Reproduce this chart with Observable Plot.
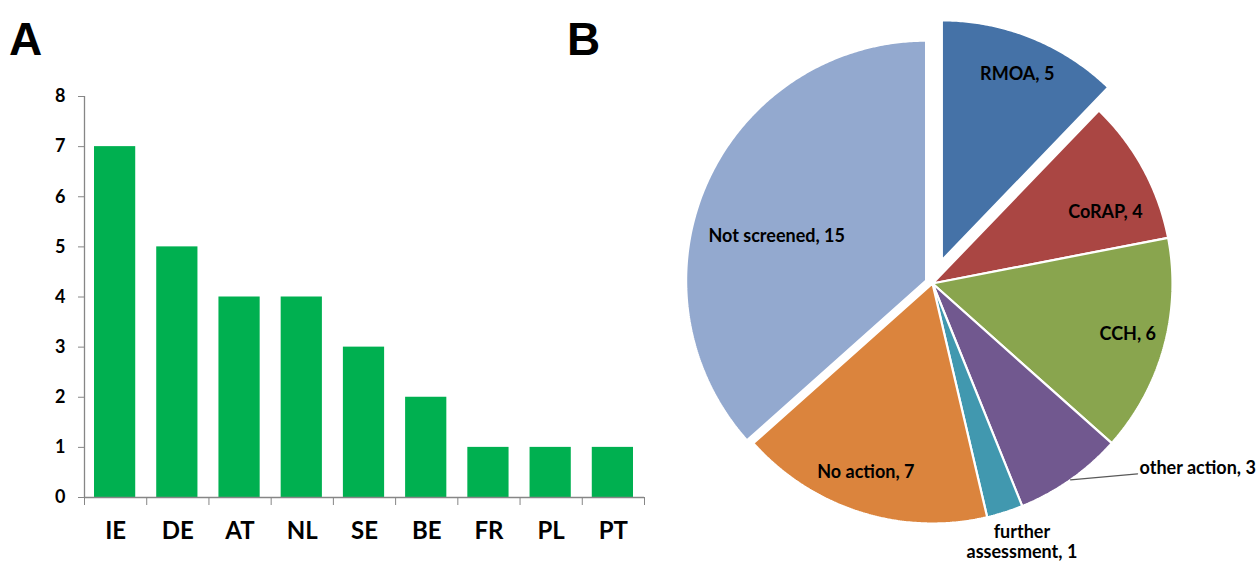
<!DOCTYPE html>
<html>
<head>
<meta charset="utf-8">
<script src="https://cdn.jsdelivr.net/npm/d3@7"></script>
<script src="https://cdn.jsdelivr.net/npm/@observablehq/plot@0.6"></script>
<style>
  html, body { margin: 0; padding: 0; background: #fff; }
  #wrap { position: relative; width: 1260px; height: 563px; overflow: hidden; }
  #bar { position: absolute; left: 0; top: 0; }
  #pie { position: absolute; left: 660px; top: 0; }
  .panel { position: absolute; font-family: "Liberation Sans", Arial, sans-serif; font-weight: bold; font-size: 46px; line-height: 46px; color: #000; }
</style>
</head>
<body>
<div id="wrap">
  <div id="bar"></div>
  <div id="pie"></div>
  <div class="panel" style="left:9px; top:16px;">A</div>
  <div class="panel" style="left:567px; top:16px;">B</div>
</div>
<script>
// ---- Panel A data ----
const countries = ["IE", "DE", "AT", "NL", "SE", "BE", "FR", "PL", "PT"];
const counts = [7, 5, 4, 4, 3, 2, 1, 1, 1];
const yTicks = [0, 1, 2, 3, 4, 5, 6, 7, 8];

// ---- Panel B data ----
const categories = ["RMOA", "CoRAP", "CCH", "other action", "further assessment", "No action", "Not screened"];
const catValues = [5, 4, 6, 3, 1, 7, 15];
const catColors = ["#4572A7", "#AA4643", "#89A54E", "#71588F", "#4198AF", "#DB843D", "#93A9CF"];

// ---- layout (styling) ----
const R = 240;                 // pie radius in px
const explode = {"RMOA": 25 / R, "Not screened": 7 / R};
// inside labels: [radius fraction, angular shift in degrees]
const labelPolar = {"RMOA": [0.84, 0], "CoRAP": [0.78, 6], "CCH": [0.84, -1], "No action": [0.83, 2], "Not screened": [0.65, -7.4]};
// outside labels: pixel offset from the arc point at the slice's mid angle
const outside = {"other action": [69, -6], "further assessment": [17, 29]};
const axisGray = "#868686";
const labelFont = 18;

// ---- Panel A ----
const barData = countries.map((c, i) => ({country: c, idx: i, value: counts[i]}));
const bar = Plot.plot({
  width: 660, height: 563,
  marginLeft: 84, marginRight: 16, marginTop: 96, marginBottom: 66,
  style: {fontFamily: "Lato, 'Open Sans', sans-serif", background: "white"},
  x: {domain: [0, countries.length], axis: null},
  y: {domain: [0, 8], axis: null},
  marks: [
    Plot.rectY(barData, {x1: "idx", x2: d => d.idx + 1, y: "value", fill: "#00B050", insetLeft: 10, insetRight: 11}),
    Plot.ruleX([0], {stroke: axisGray, strokeWidth: 1.3}),
    Plot.ruleY([0], {stroke: axisGray, strokeWidth: 1.3}),
    Plot.axisY({ticks: yTicks, tickSize: 6, tickPadding: 13, stroke: axisGray, fill: "black", fontSize: 18, fontWeight: "bold", label: null, tickFormat: d => String(d)}),
    Plot.axisX({ticks: d3.range(0, countries.length + 1), tickSize: 8, stroke: axisGray, tickFormat: () => "", label: null}),
    Plot.axisX({ticks: countries.map((c, i) => i + 0.5), tickSize: 0, tickPadding: 24, fill: "black", fontSize: 24, fontWeight: "bold", label: null, tickFormat: d => countries[Math.floor(d)]})
  ]
});
document.getElementById("bar").appendChild(bar);

// ---- Panel B ----
const pieData = categories.map((name, i) => ({name, value: catValues[i]}));
const arcs = d3.pie().sort(null).value(d => d.value).startAngle(0).endAngle(2 * Math.PI)(pieData);
const slicePts = [];
const labels = [];
const leaders = [];
for (const a of arcs) {
  const name = a.data.name;
  const mid = (a.startAngle + a.endAngle) / 2;
  const off = explode[name] || 0;
  const cx = off * Math.sin(mid), cy = -off * Math.cos(mid);
  slicePts.push({name, x: cx, y: cy});
  const n = Math.max(4, Math.ceil((a.endAngle - a.startAngle) / (Math.PI / 360)));
  for (let k = 0; k <= n; k++) {
    const t = a.startAngle + (a.endAngle - a.startAngle) * k / n;
    slicePts.push({name, x: cx + Math.sin(t), y: cy - Math.cos(t)});
  }
  const text = name === "further assessment" ? "further\nassessment, " + a.data.value : name + ", " + a.data.value;
  if (outside[name]) {
    const px = cx + Math.sin(mid), py = cy - Math.cos(mid);
    const [ox, oy] = outside[name];
    if (name === "other action") {
      leaders.push({g: name, x: px, y: py}, {g: name, x: px + (ox - 2) / R, y: py + oy / R});
      labels.push({text, x: px + ox / R, y: py + (oy - 6) / R, anchor: "start"});
    } else {
      labels.push({text, x: px + ox / R, y: py + oy / R, anchor: "middle"});
    }
  } else {
    const [k, da] = labelPolar[name] || [0.82, 0];
    const ang = mid + da * Math.PI / 180;
    labels.push({text, x: cx + k * Math.sin(ang), y: cy - k * Math.cos(ang), anchor: "middle"});
  }
}
const cxPx = 272, cyPx = 283;
const pie = Plot.plot({
  width: 600, height: 563,
  margin: 0,
  style: {fontFamily: "Lato, 'Open Sans', sans-serif", background: "white"},
  x: {domain: [-cxPx / R, (600 - cxPx) / R], range: [0, 600], axis: null},
  y: {domain: [-cyPx / R, (563 - cyPx) / R], range: [0, 563], axis: null},
  color: {domain: categories, range: catColors},
  marks: [
    Plot.line(slicePts, {x: "x", y: "y", z: "name", fill: "name", stroke: "white", strokeWidth: 2.2, curve: "linear-closed", strokeLinejoin: "miter"}),
    Plot.line(leaders, {x: "x", y: "y", z: "g", stroke: "#595959", strokeWidth: 1.2}),
    Plot.text(labels.filter(d => d.anchor === "middle"), {x: "x", y: "y", text: "text", textAnchor: "middle", lineAnchor: "middle", lineHeight: 1.12, fontSize: labelFont, fontWeight: "bold", fill: "black"}),
    Plot.text(labels.filter(d => d.anchor === "start"), {x: "x", y: "y", text: "text", textAnchor: "start", lineAnchor: "middle", fontSize: labelFont, fontWeight: "bold", fill: "black"})
  ]
});
document.getElementById("pie").appendChild(pie);
</script>
</body>
</html>
